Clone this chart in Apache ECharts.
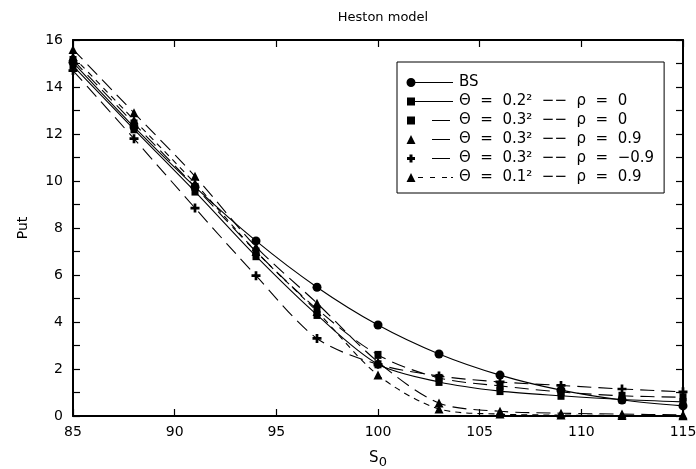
<!DOCTYPE html>
<html>
<head>
<meta charset="utf-8">
<script src="https://cdn.jsdelivr.net/npm/echarts@6/dist/echarts.min.js"></script>
<style>html,body{margin:0;padding:0;background:#fff;}#c{width:696px;height:469px;}</style>
</head>
<body>
<div id="c"></div>
<script>
const spot = [85, 88, 91, 94, 97, 100, 103, 106, 109, 112, 115];
const seriesNames = [
  'BS',
  'Θ  =  0.2²  −−  ρ  =  0',
  'Θ  =  0.3²  −−  ρ  =  0',
  'Θ  =  0.3²  −−  ρ  =  0.9',
  'Θ  =  0.3²  −−  ρ  =  −0.9',
  'Θ  =  0.1²  −−  ρ  =  0.9'
];
const putBS       = [15.05, 12.30, 9.75, 7.45, 5.48, 3.87, 2.64, 1.74, 1.10, 0.68, 0.43];
const putT02R0    = [14.90, 12.20, 9.55, 6.80, 4.30, 2.20, 1.45, 1.06, 0.86, 0.70, 0.60];
const putT03R0    = [15.15, 12.45, 9.75, 7.00, 4.55, 2.60, 1.62, 1.28, 1.02, 0.86, 0.80];
const putT03R09   = [15.60, 12.90, 10.20, 7.20, 4.80, 2.30, 0.55, 0.20, 0.12, 0.08, 0.05];
const putT03Rm09  = [14.70, 11.80, 8.85, 5.97, 3.30, 2.20, 1.70, 1.45, 1.30, 1.15, 1.03];
const putT01R09   = [15.30, 12.60, 9.90, 7.00, 4.45, 1.74, 0.30, 0.08, 0.04, 0.02, 0.01];
const yTicks = [0, 2, 4, 6, 8, 10, 12, 14, 16];

const seriesValues = [putBS, putT02R0, putT03R0, putT03R09, putT03Rm09, putT01R09];

const plusPath = 'path://M3.5,0H6.5V3.5H10V6.5H6.5V10H3.5V6.5H0V3.5H3.5Z';
const symbols = ['circle', 'rect', 'rect', 'triangle', plusPath, 'triangle'];
const symbolSizes = [9, [7, 8], [7, 8], 9, 9, 9];
const dashTypes = ['solid', 'solid', [14, 7], [14, 7], [14, 7], [6, 5]];

const box = 'M0,0M48,10';
const mCircle = 'M0.5,5A4.5,4.5 0 1 1 9.5,5A4.5,4.5 0 1 1 0.5,5Z';
const mSquare = 'M1,1H9V9H1Z';
const mTri = 'M5,0.5L9.5,9.5L0.5,9.5Z';
const mPlus = 'M3.5,1H6.5V3.5H9V6.5H6.5V9H3.5V6.5H1V3.5H3.5Z';
const solidLine = 'M5,4.4H47V5.6H5Z';
const longDash = 'M26,4.4H44V5.6H26Z';
const shortDash = 'M12,4.4H17V5.6H12ZM24,4.4H29V5.6H24ZM36,4.4H41V5.6H36ZM45,4.4H47V5.6H45Z';
const legendIcons = [
  'path://' + box + mCircle + solidLine,
  'path://' + box + mSquare + solidLine,
  'path://' + box + mSquare + longDash,
  'path://' + box + mTri + longDash,
  'path://' + box + mPlus + longDash,
  'path://' + box + mTri + shortDash
];

const FONT = 'DejaVu Sans';

const chart = echarts.init(document.getElementById('c'), null, {renderer: 'canvas'});

const series = seriesNames.map((name, i) => ({
  name: name,
  type: 'line',
  data: spot.map((s, j) => [s, seriesValues[i][j]]),
  smooth: 0.3,
  symbol: symbols[i],
  symbolSize: symbolSizes[i],
  showAllSymbol: true,
  itemStyle: {color: '#000'},
  lineStyle: {color: '#000', width: 1.1, type: dashTypes[i]},
  emphasis: {disabled: true},
  animation: false
}));

const axisCommon = {
  axisLine: {show: true, onZero: false, lineStyle: {color: '#000', width: 2}},
  axisTick: {show: true, inside: true, length: 7, lineStyle: {color: '#000', width: 1.2}},
  splitLine: {show: false}
};

chart.setOption({
  backgroundColor: '#fff',
  animation: false,
  title: {
    text: 'Heston model',
    left: 378,
    textAlign: 'center',
    top: 6,
    textStyle: {fontFamily: FONT, fontSize: 13, fontWeight: 'normal', color: '#000'}
  },
  legend: {
    orient: 'vertical',
    left: 397,
    top: 62,
    padding: [13, 10, 8, 9],
    itemGap: 4,
    itemWidth: 48,
    itemHeight: 10,
    borderColor: '#000',
    borderWidth: 1,
    backgroundColor: '#fff',
    data: seriesNames.map((n, i) => ({name: n, icon: legendIcons[i], itemStyle: {color: '#000'}})),
    textStyle: {fontFamily: FONT, fontSize: 15, color: '#000'},
    selectedMode: false
  },
  grid: {left: 73, right: 13, top: 40, bottom: 53, containLabel: false, outerBoundsMode: 'none'},
  xAxis: [
    Object.assign({}, axisCommon, {
      type: 'value', min: 85, max: 115, interval: 5, position: 'bottom',
      axisLabel: {color: '#000', fontFamily: FONT, fontSize: 14, margin: 9},
      name: '{s|S}{sub|0}',
      nameLocation: 'middle',
      nameGap: 31,
      nameTextStyle: {
        color: '#000', fontFamily: FONT,
        rich: {
          s: {fontFamily: FONT, fontSize: 15, color: '#000'},
          sub: {fontFamily: FONT, fontSize: 13, color: '#000', padding: [9, 0, 0, 0]}
        }
      }
    }),
    Object.assign({}, axisCommon, {
      type: 'value', min: 85, max: 115, interval: 5, position: 'top',
      axisLabel: {show: false}
    })
  ],
  yAxis: [
    Object.assign({}, axisCommon, {
      type: 'value', min: 0, max: 16, interval: 1, position: 'left',
      axisLabel: {
        color: '#000', fontFamily: FONT, fontSize: 14, margin: 10,
        formatter: v => (yTicks.indexOf(v) >= 0 ? String(v) : '')
      },
      name: 'Put',
      nameLocation: 'middle',
      nameRotate: 90,
      nameGap: 43,
      nameTextStyle: {color: '#000', fontFamily: FONT, fontSize: 14}
    }),
    Object.assign({}, axisCommon, {
      type: 'value', min: 0, max: 16, interval: 1, position: 'right',
      axisLabel: {show: false}
    })
  ],
  series: series
});
</script>
</body>
</html>
